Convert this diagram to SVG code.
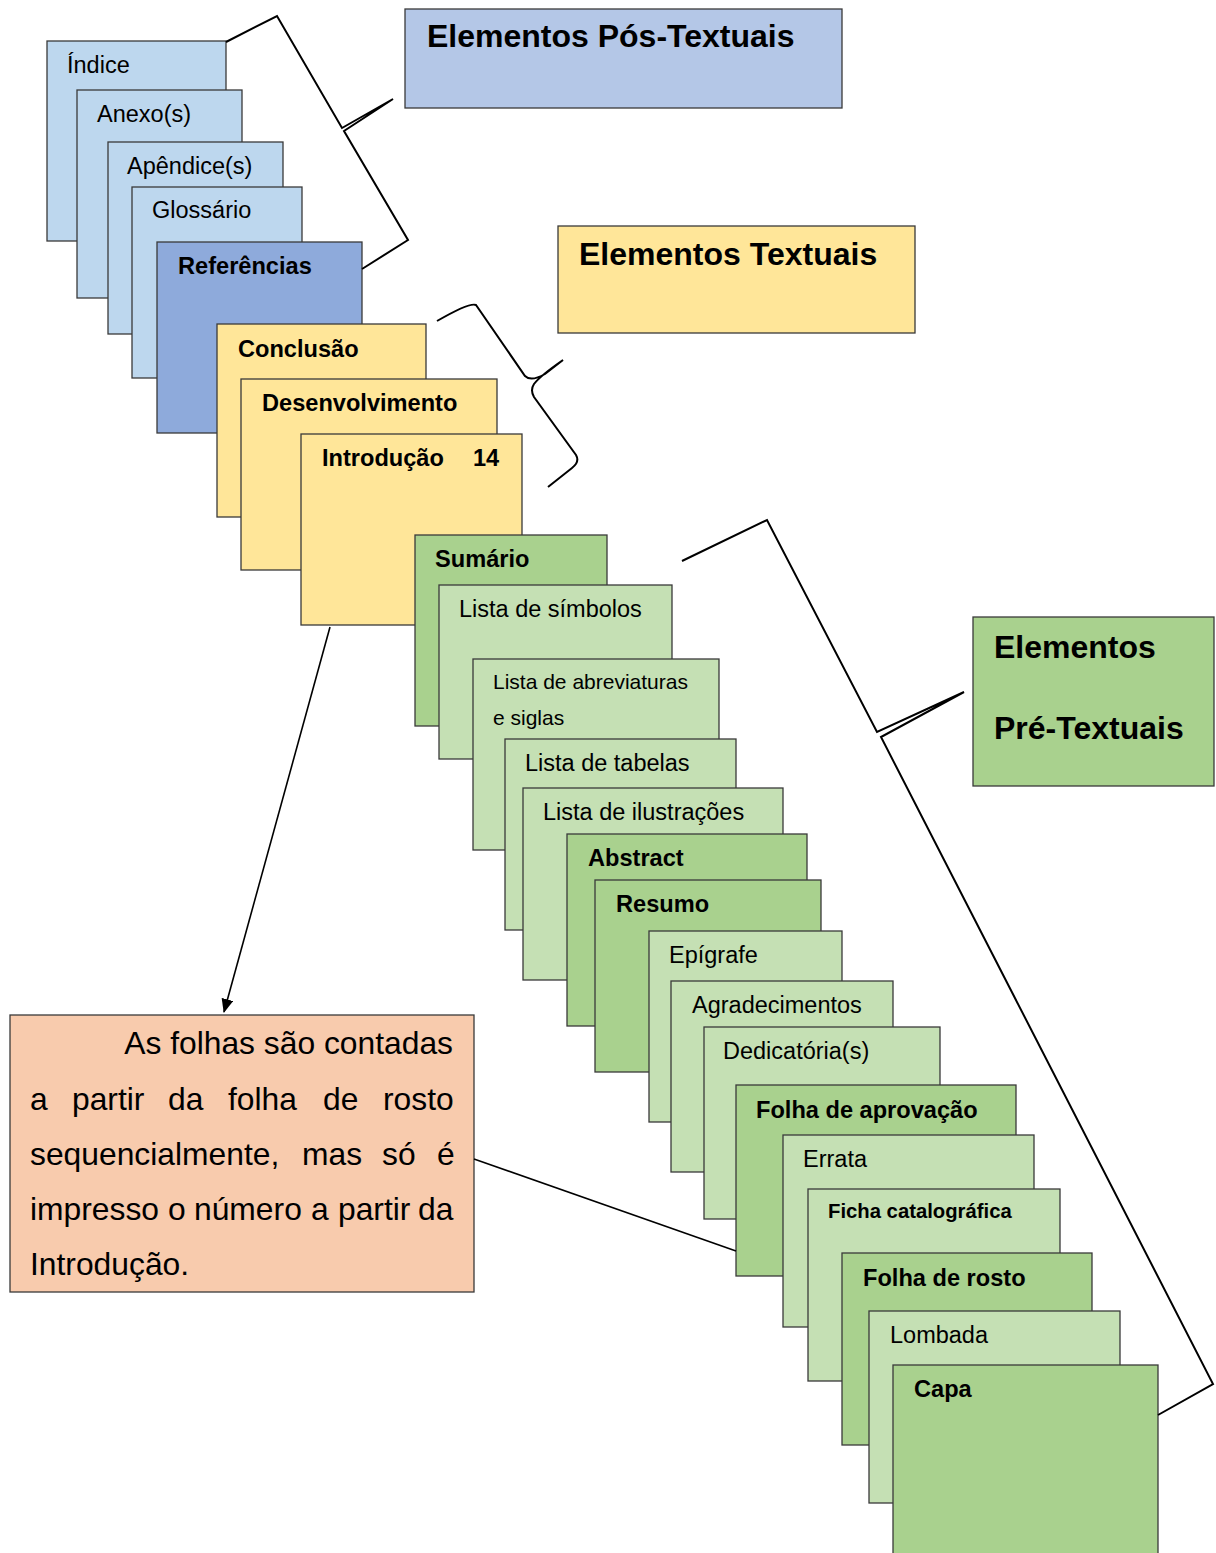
<svg xmlns="http://www.w3.org/2000/svg" width="1216" height="1553" viewBox="0 0 1216 1553">
<style>
.pg{stroke:#3a3a3a;stroke-width:1.3}
.lb{fill:#BDD7EE}.db{fill:#8EAADB}.tb{fill:#B4C7E7}
.y{fill:#FFE699}.dg{fill:#A9D18E}.lg{fill:#C5E0B4}.or{fill:#F8CBAD}
text{font-family:"Liberation Sans",Arial,sans-serif;fill:#000}
.t{font-size:23.5px}
.b{font-size:23.6px;font-weight:bold}
.h{font-size:32px;font-weight:bold}
.n{font-size:31.8px}
.ln{fill:none;stroke:#000;stroke-width:2;stroke-linejoin:miter}
</style>
<defs>
<marker id="ah" viewBox="0 0 14 12" refX="13" refY="6" markerWidth="14" markerHeight="12" markerUnits="userSpaceOnUse" orient="auto">
<path d="M0,0 L14,6 L0,12 z" fill="#000"/>
</marker>
</defs>

<g id="titulo-pos"><rect class="pg tb" x="405" y="9" width="437" height="99"/><text class="h" x="427" y="47">Elementos Pós-Textuais</text></g>
<g id="titulo-textuais"><rect class="pg y" x="558" y="226" width="357" height="107"/><text class="h" x="579" y="265">Elementos Textuais</text></g>
<g id="titulo-pre"><rect class="pg dg" x="973" y="617" width="241" height="169"/><text class="h" x="994" y="658">Elementos</text><text class="h" x="994" y="739">Pré-Textuais</text></g>

<g id="indice"><rect class="pg lb" x="47" y="41" width="179" height="200"/><text class="t" x="67" y="73">Índice</text></g>
<g id="anexo"><rect class="pg lb" x="77" y="90" width="165" height="208"/><text class="t" x="97" y="122">Anexo(s)</text></g>
<g id="apendice"><rect class="pg lb" x="108" y="142" width="175" height="192"/><text class="t" x="127" y="174">Apêndice(s)</text></g>
<g id="glossario"><rect class="pg lb" x="132" y="187" width="170" height="191"/><text class="t" x="152" y="218">Glossário</text></g>
<g id="referencias"><rect class="pg db" x="157" y="242" width="205" height="191"/><text class="b" x="178" y="274">Referências</text></g>

<g id="conclusao"><rect class="pg y" x="217" y="324" width="209" height="193"/><text class="b" x="238" y="357">Conclusão</text></g>
<g id="desenvolvimento"><rect class="pg y" x="241" y="379" width="256" height="191"/><text class="b" x="262" y="411">Desenvolvimento</text></g>
<g id="introducao"><rect class="pg y" x="301" y="434" width="221" height="191"/><text class="b" x="322" y="466">Introdução</text><text class="b" x="473" y="466">14</text></g>

<g id="sumario"><rect class="pg dg" x="415" y="535" width="192" height="191"/><text class="b" x="435" y="567">Sumário</text></g>
<g id="lista-simbolos"><rect class="pg lg" x="439" y="585" width="233" height="174"/><text class="t" x="459" y="617">Lista de símbolos</text></g>
<g id="lista-abreviaturas"><rect class="pg lg" x="473" y="659" width="246" height="191"/><text x="493" y="689" font-size="21">Lista de abreviaturas</text><text x="493" y="725" font-size="21">e siglas</text></g>
<g id="lista-tabelas"><rect class="pg lg" x="505" y="739" width="231" height="191"/><text class="t" x="525" y="771">Lista de tabelas</text></g>
<g id="lista-ilustracoes"><rect class="pg lg" x="523" y="788" width="260" height="192"/><text class="t" x="543" y="820">Lista de ilustrações</text></g>
<g id="abstract"><rect class="pg dg" x="567" y="834" width="240" height="192"/><text class="b" x="588" y="866">Abstract</text></g>
<g id="resumo"><rect class="pg dg" x="595" y="880" width="226" height="192"/><text class="b" x="616" y="912">Resumo</text></g>
<g id="epigrafe"><rect class="pg lg" x="649" y="931" width="193" height="191"/><text class="t" x="669" y="963">Epígrafe</text></g>
<g id="agradecimentos"><rect class="pg lg" x="671" y="981" width="222" height="191"/><text class="t" x="692" y="1013">Agradecimentos</text></g>
<g id="dedicatoria"><rect class="pg lg" x="704" y="1027" width="236" height="192"/><text class="t" x="723" y="1059">Dedicatória(s)</text></g>
<g id="folha-aprovacao"><rect class="pg dg" x="736" y="1085" width="280" height="191"/><text class="b" x="756" y="1118">Folha de aprovação</text></g>
<g id="errata"><rect class="pg lg" x="783" y="1135" width="251" height="192"/><text class="t" x="803" y="1167">Errata</text></g>
<g id="ficha"><rect class="pg lg" x="808" y="1189" width="252" height="192"/><text x="828" y="1218" font-size="20.3" font-weight="bold">Ficha catalográfica</text></g>
<g id="folha-rosto"><rect class="pg dg" x="842" y="1253" width="250" height="192"/><text class="b" x="863" y="1286">Folha de rosto</text></g>
<g id="lombada"><rect class="pg lg" x="869" y="1311" width="251" height="192"/><text class="t" x="890" y="1343">Lombada</text></g>
<g id="capa"><rect class="pg dg" x="893" y="1365" width="265" height="200"/><text class="b" x="914" y="1397">Capa</text></g>

<g id="nota"><rect class="pg or" x="10" y="1015" width="464" height="277"/>
<text class="n" x="453" y="1054" text-anchor="end">As folhas são contadas</text>
<text class="n" y="1110"><tspan x="30">a</tspan><tspan x="72">partir</tspan><tspan x="168">da</tspan><tspan x="228">folha</tspan><tspan x="323">de</tspan><tspan x="383">rosto</tspan></text>
<text class="n" y="1165"><tspan x="30">sequencialmente,</tspan><tspan x="302">mas</tspan><tspan x="382">só</tspan><tspan x="437">é</tspan></text>
<text class="n" y="1220"><tspan x="30">impresso</tspan><tspan x="168">o</tspan><tspan x="194">número</tspan><tspan x="311">a</tspan><tspan x="338">partir</tspan><tspan x="418">da</tspan></text>
<text class="n" x="30" y="1275">Introdução.</text>
</g>

<g id="conectores">
<path class="ln" d="M226,42 L277,16 L342,128 L393,99 L344,131 L408,240 L362,269"/>
<path class="ln" d="M437,321 Q470,302 476,305 L525,376 Q531,382 545,374 L563,360 Q540,376 534,384 Q530,390 534,397 L576,455 Q580,462 572,468 L548,487"/>
<path class="ln" d="M682,561 L767,520 L877,732 L964,692 L881,737 L1213,1384 L1158,1415"/>
<path fill="none" stroke="#000" stroke-width="1.6" d="M330,627 L224,1012" marker-end="url(#ah)"/>
<path fill="none" stroke="#000" stroke-width="1.6" d="M474,1159 L736,1251"/>
</g>
</svg>
